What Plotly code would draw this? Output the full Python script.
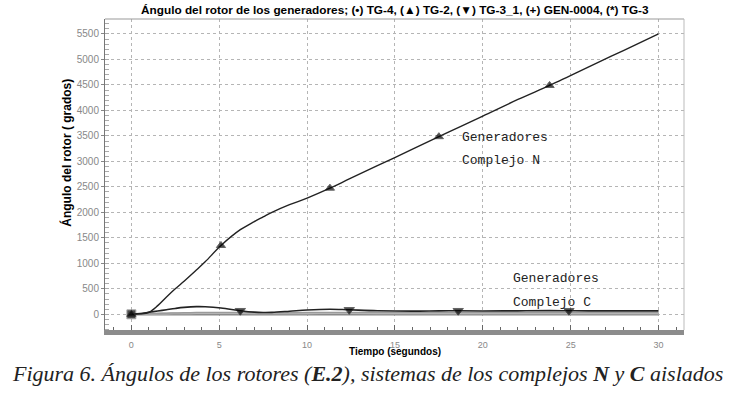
import plotly.graph_objects as go

# ---- data ----
t = [0, 0.5, 1, 1.5, 2, 2.5, 3, 3.7, 4.2, 5.1, 6.2, 7, 7.5, 8, 9, 10, 11.3, 12.4,
     14, 16, 17.5, 18.6, 20, 22, 23.8, 24.9, 26, 28, 30]
tg2 = [0, 8, 40, 170, 340, 500, 650, 870, 1030, 1350, 1660, 1820, 1910, 2000, 2150,
       2280, 2475, 2655, 2915, 3240, 3485, 3665, 3890, 4215, 4490, 4670, 4850, 5175, 5500]
tg3_1 = [0, 15, 40, 65, 90, 115, 135, 150, 148, 125, 70, 42, 36, 38, 60, 85, 100, 88,
         70, 62, 68, 70, 66, 68, 72, 70, 68, 68, 68]
tg4 = [0] * len(t)
gen0004 = [0, 5, 12, 18, 22, 26, 30, 34, 36, 36, 34, 32, 30, 30, 32, 34, 36, 36,
           35, 34, 35, 36, 36, 36, 36, 36, 36, 36, 36]
tg3 = [0, 4, 10, 14, 18, 20, 22, 24, 25, 25, 24, 22, 21, 21, 22, 23, 24, 24,
       23, 22, 22, 22, 22, 22, 22, 22, 22, 22, 22]
tg2_marks = [0, 5.1, 11.3, 17.5, 23.8]
tg3_1_marks = [6.2, 12.4, 18.6, 24.9]
tg4_marks = [0]

title = ("Ángulo del rotor de los generadores; (•) TG-4, (▲) TG-2, (▼) TG-3_1, "
         "(+) GEN-0004, (*) TG-3")
x_title = "Tiempo (segundos)"
y_title = "Ángulo del rotor ( grados)"
caption = ("Figura 6. Ángulos de los rotores (<b>E.2</b>), sistemas de los complejos "
           "<b>N</b> y <b>C</b> aislados")
x_ticks = [0, 5, 10, 15, 20, 25, 30]
y_ticks = [0, 500, 1000, 1500, 2000, 2500, 3000, 3500, 4000, 4500, 5000, 5500]


def sizes(marks, s):
    return [s if x in marks else 0 for x in t]


fig = go.Figure()
fig.add_trace(go.Scatter(x=t, y=tg4, mode="lines+markers", name="TG-4",
                         line=dict(color="#8a8a8a", width=2.5, shape="spline"),
                         marker=dict(symbol="square", color="black", size=sizes(tg4_marks, 9))))
fig.add_trace(go.Scatter(x=t, y=tg3, mode="lines", name="TG-3",
                         line=dict(color="#bdbdbd", width=2, shape="spline")))
fig.add_trace(go.Scatter(x=t, y=gen0004, mode="lines", name="GEN-0004",
                         line=dict(color="#9a9a9a", width=1.5, shape="spline")))
fig.add_trace(go.Scatter(x=t, y=tg3_1, mode="lines+markers", name="TG-3_1",
                         line=dict(color="#222222", width=1.6, shape="spline"),
                         marker=dict(symbol="triangle-down", color="black",
                                     size=sizes(tg3_1_marks, 9))))
fig.add_trace(go.Scatter(x=t, y=tg2, mode="lines+markers", name="TG-2",
                         line=dict(color="#222222", width=1.4, shape="spline"),
                         marker=dict(symbol="triangle-up", color="black",
                                     size=sizes(tg2_marks, 8))))

mono = dict(family="Liberation Mono, Courier New, monospace", size=13, color="#222")
for txt, x, y in [("Generadores", 18.7, 3460), ("Complejo N", 18.7, 3010),
                  ("Generadores", 21.6, 693), ("Complejo C", 21.6, 222)]:
    fig.add_annotation(x=x, y=y, text=txt, showarrow=False, xanchor="left",
                       yanchor="middle", font=mono)

fig.add_annotation(xref="paper", yref="paper", x=0.5, y=1, yshift=9, text=f"<b>{title}</b>",
                   showarrow=False, xanchor="center", yanchor="middle",
                   font=dict(family="Arial, Liberation Sans", size=11.8, color="black"))
fig.add_annotation(xref="paper", yref="paper", x=0.5, y=0, yshift=-21, text=f"<b>{x_title}</b>",
                   showarrow=False, xanchor="center", yanchor="middle",
                   font=dict(family="Arial, Liberation Sans", size=10, color="black"))
fig.add_annotation(xref="paper", yref="paper", x=0, xshift=-38, y=0.57, text=f"<b>{y_title}</b>",
                   showarrow=False, xanchor="center", yanchor="middle", textangle=-90,
                   font=dict(family="Arial, Liberation Sans", size=12, color="black"))
fig.add_annotation(xref="paper", yref="paper", x=(367 - 105) / 579, y=0, yshift=-43,
                   text="<i>" + caption + "</i>",
                   showarrow=False, xanchor="center", yanchor="middle",
                   font=dict(family="Liberation Serif, DejaVu Serif, serif", size=22,
                             color="#222"))

fig.update_layout(
    width=733, height=396, showlegend=False,
    paper_bgcolor="white", plot_bgcolor="white",
    margin=dict(l=105, r=49, t=19, b=66),
    font=dict(family="Arial, Liberation Sans", size=10, color="#777"),
)
fig.update_xaxes(range=[-1.5, 31.45], tickvals=x_ticks, ticktext=[str(v) for v in x_ticks],
                 showgrid=True, gridcolor="#b5b5b5", griddash="dot", gridwidth=1,
                 zeroline=False, showline=True, linecolor="#8c8c8c", linewidth=5,
                 ticks="inside", ticklen=5, tickcolor="#666", ticklabelstandoff=2,
                 minor=dict(dtick=1, tick0=0, ticks="inside", ticklen=3, tickcolor="#666",
                            showgrid=False),
                 tickfont=dict(size=9, color="#888"))
fig.update_yaxes(range=[-308, 5794], tickvals=y_ticks, ticktext=[str(v) for v in y_ticks],
                 showgrid=True, gridcolor="#b5b5b5", griddash="dot", gridwidth=1,
                 zeroline=False, showline=True, linecolor="#777", linewidth=1, mirror=False,
                 ticks="outside", ticklen=3, tickcolor="#888",
                 minor=dict(dtick=100, tick0=0, ticks="inside", ticklen=4, tickcolor="#aaa",
                            showgrid=False),
                 tickfont=dict(size=10, color="#888"))
# frame top/right
fig.add_shape(type="line", xref="paper", yref="paper", x0=0, x1=1, y0=1, y1=1,
              line=dict(color="#999", width=1))
fig.add_shape(type="line", xref="paper", yref="paper", x0=1, x1=1, y0=0, y1=1,
              line=dict(color="#bbb", width=1))

fig.write_html("out.html", config={"displayModeBar": False},
               post_script="document.body.style.margin='0';")
